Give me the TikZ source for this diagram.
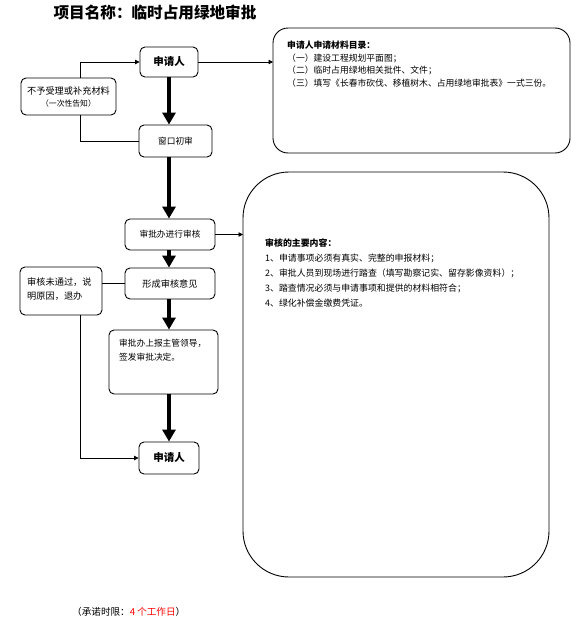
\documentclass[tikz,border=0pt]{standalone}
\usepackage{fontspec}
\setmainfont{Noto Sans CJK SC}
\usetikzlibrary{arrows.meta}
\begin{document}
\begin{tikzpicture}[x=1pt,y=-1pt,
  box/.style={draw, rounded corners=5pt, line width=0.9pt, inner sep=0pt, align=center,
    font=\fontsize{8.7}{11}\selectfont},
  bigbox/.style={draw, line width=0.9pt},
  txt/.style={inner sep=0pt, anchor=north west, align=left},
  flow/.style={line width=4pt, -{Triangle[width=13pt,length=12pt]}},
  conn/.style={line width=0.8pt},
  connarrow/.style={line width=0.8pt, -{Triangle[width=4.5pt,length=4.5pt]}}
]
\useasboundingbox (0,0) rectangle (581,637);
\fill[white] (0,0) rectangle (581,637);

% title
\node[inner sep=0pt, font=\fontsize{15.6}{18}\selectfont\bfseries] (title) at (155,13) {项目名称：临时占用绿地审批};

% flow boxes
\node[box, minimum width=58pt, minimum height=30pt, font=\fontsize{10.5}{12}\selectfont\bfseries] (a1) at (169,62) {申请人};
\node[box, minimum width=95pt, minimum height=37pt, font=\fontsize{9.2}{13}\selectfont] (b) at (68.5,96.5) {不予受理或补充材料\\[-1pt]{\fontsize{7.8}{9}\selectfont（一次性告知）}};
\node[box, minimum width=73pt, minimum height=32pt] (c) at (175.5,141) {窗口初审};
\node[box, minimum width=90pt, minimum height=31pt] (d) at (170,234.5) {审批办进行审核};
\node[box, minimum width=90pt, minimum height=31pt, font=\fontsize{9.2}{11}\selectfont] (e) at (170,283.5) {形成审核意见};
\node[box, minimum width=82pt, minimum height=48pt] (f) at (61,291) {};
\node[txt, font=\fontsize{9.2}{14}\selectfont] (ft) at (27,278) {审核未通过，说\\明原因，退办};
\node[box, minimum width=109pt, minimum height=64pt] (g) at (163.5,362) {};
\node[txt, font=\fontsize{8.7}{14}\selectfont] (gt) at (119,339) {审批办上报主管领导，\\签发审批决定。};
\node[box, minimum width=60pt, minimum height=32pt, font=\fontsize{10.5}{12}\selectfont\bfseries] (h) at (169,458) {申请人};

% big boxes
\draw[bigbox, rounded corners=15pt] (273,28) rectangle (570,153);
\coordinate (P) at (273,62);
\node[txt, font=\fontsize{8.8}{12.5}\selectfont] (pt) at (287,41) {{\bfseries 申请人申请材料目录：}\\（一）建设工程规划平面图；\\（二）临时占用绿地相关批件、文件；\\（三）填写《长春市砍伐、移植树木、占用绿地审批表》一式三份。};

\draw[bigbox, rounded corners=46pt] (243,172) rectangle (549,577);
\coordinate (Q) at (243,235);
\node[txt, font=\fontsize{8.9}{15}\selectfont] (qt) at (265,239) {{\bfseries 审核的主要内容：}\\1、申请事项必须有真实、完整的申报材料；\\2、审批人员到现场进行踏查（填写勘察记实、留存影像资料）；\\3、踏查情况必须与申请事项和提供的材料相符合；\\4、绿化补偿金缴费凭证。};

% footer
\node[inner sep=0pt, anchor=west, font=\fontsize{9.6}{11}\selectfont] (foot) at (72,612) {（承诺时限：\textcolor{red}{4 个工作日}）};

% thick flow arrows
\draw[flow] (a1.south) -- (a1.south |- c.north);
\draw[flow] (a1.south |- c.south) -- (a1.south |- d.north);
\draw[flow] (a1.south |- d.south) -- (a1.south |- e.north);
\draw[flow] (a1.south |- e.south) -- (a1.south |- g.north);
\draw[flow] (a1.south |- g.south) -- (h.north);

% thin connectors
\coordinate (bt) at (80,78);
\coordinate (bb) at (80,115);
\draw[connarrow] (bt) |- (a1.west);
\draw[conn] (bb) |- (c.west);
\draw[connarrow] (a1.east) -- (P);
\draw[connarrow] (d.east) -- (d.east -| Q);
\draw[conn] (e.west) -- (e.west -| f.east);
\coordinate (fb) at (80,315);
\draw[connarrow] (fb) |- (h.west);
\end{tikzpicture}
\end{document}
